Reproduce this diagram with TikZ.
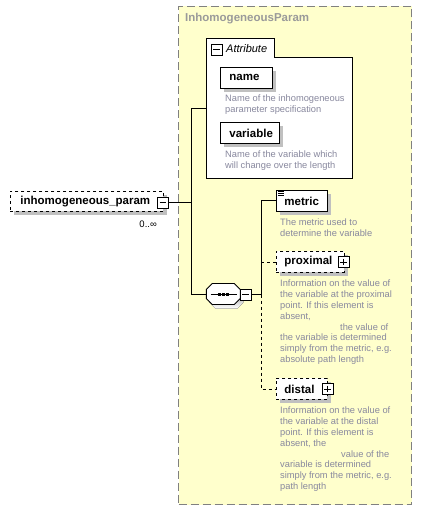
\documentclass[tikz,border=0pt]{standalone}
\usepackage{fontspec}
\setmainfont{Liberation Sans}
\usetikzlibrary{shadows}
\definecolor{paper}{RGB}{255, 255, 204}
\definecolor{frame}{RGB}{128, 128, 128}
\definecolor{note}{RGB}{136, 136, 158}
\definecolor{shade}{RGB}{192, 192, 192}

\begin{document}
\begin{tikzpicture}[
   x=1pt, y=-1pt,
   group/.style={rectangle, draw=frame, fill=paper, line width=1,
                 dash pattern=on 8pt off 4pt, anchor=north west, inner sep=0},
   grouptitle/.style={text=frame!80, font=\bfseries\fontsize{11.5}{13}\selectfont,
                      anchor=west, inner sep=0},
   elem/.style={rectangle, draw=black, fill=white, line width=0.9, text=black,
                font=\bfseries\fontsize{11.5}{13}\selectfont, inner xsep=8,
                inner ysep=0, minimum height=21, anchor=north west, align=left,
                drop shadow={shadow xshift=4pt, shadow yshift=-4pt, fill=shade, opacity=1}},
   optelem/.style={elem, dashed},
   seqbox/.style={rectangle, minimum width=34, minimum height=21, inner sep=0},
   pmbox/.style={rectangle, draw=black, fill=white, line width=0.9,
                 minimum size=11, inner sep=0},
   descr/.style={text=note, font=\fontsize{9.3}{10.8}\selectfont, align=left,
                 anchor=north west, inner sep=0},
   link/.style={line width=0.9, draw=black}
  ]

  \useasboundingbox (0, 0) rectangle (422, 510);

  % Group box
  \node[group, minimum width=233, minimum height=498] (group) at (178, 6) {};
  \node[grouptitle] (grouptitle) at (185, 19) {InhomogeneousParam};

  % Attributes
  \node[minimum width=146, minimum height=140, anchor=north west, inner sep=0] (attr) at (206, 38) {};
  \draw[fill=white, line width=0.9] (attr.south west) -- (attr.north west) -- ++(68, 0)
    -- ++(0, 19) -| (attr.south east) -- cycle;
  \node[pmbox] (attrpm) at (216.5, 49.5) {};
  \node[font=\itshape\fontsize{11}{13}\selectfont, anchor=west, inner sep=0] (attrtitle) at (226, 48.5) {Attribute};

  \node[elem, text width=34, inner xsep=9] (name) at (220, 67) {name};
  \node[descr] (namedoc) at (225, 95) {Name of the inhomogeneous\\parameter specification};
  \node[elem, text width=41, inner xsep=9] (variable) at (220, 122) {variable};
  \node[descr] (variabledoc) at (225, 151) {Name of the variable which\\will change over the length};

  % Element
  \node[optelem, text width=133, inner xsep=10, minimum height=20] (param) at (10, 191) {inhomogeneous\_param};
  \node[pmbox] (parampm) at (163, 202.5) {};
  \node[font=\fontsize{9.5}{11}\selectfont, anchor=east, inner sep=0] (paramcard) at (157, 224) {0..∞};

  % Sequence
  \node[seqbox] (seq) at (223.5, 294) {};
  \fill[shade] ([shift={(3, 4)}]seq.west) ++(0, -4.5) -- ++(6, -6) -- ++(22, 0) -- ++(6, 6)
    -- ++(0, 9) -- ++(-6, 6) -- ++(-22, 0) -- ++(-6, -6) -- cycle;
  \draw[fill=white, line width=0.9] (seq.west) ++(0, -4.5) -- ++(6, -6) -- ++(22, 0) -- ++(6, 6)
    -- ++(0, 9) -- ++(-6, 6) -- ++(-22, 0) -- ++(-6, -6) -- cycle;
  \draw[line width=0.9] ([xshift=-13]seq.center) -- ([xshift=13]seq.center);
  \foreach \dx in {-4, 0, 4} {
    \fill ([xshift=\dx-1.5, yshift=1.5]seq.center) rectangle ++(3, 3);
  }
  \node[pmbox] (seqpm) at (245.5, 294.5) {};

  % Children
  \node[elem, text width=35] (metric) at (276, 190) {metric};
  \foreach \dy in {1.5, 3.5, 5.5} {
    \draw[line width=0.6] ([shift={(2, \dy)}]metric.north west) -- ++(6, 0);
  }
  \node[descr] (metricdoc) at (280, 219) {The metric used to\\determine the variable};

  \node[optelem, text width=52] (proximal) at (276, 251) {proximal};
  \node[pmbox] (proximalpm) at (343.5, 262) {};
  \node[descr] (proximaldoc) at (280, 280) {Information on the value of\\the variable at the proximal\\point. If this element is\\absent,\\\hspace*{60pt}the value of\\the variable is determined\\simply from the metric, e.g.\\absolute path length};

  \node[optelem, text width=35] (distal) at (276, 378) {distal};
  \node[pmbox] (distalpm) at (327.5, 389) {};
  \node[descr] (distaldoc) at (280, 407) {Information on the value of\\the variable at the distal\\point. If this element is\\absent, the\\\hspace*{61pt}value of the\\variable is determined\\simply from the metric, e.g.\\path length};

  % Plus and minus signs
  \foreach \n in {attrpm, parampm, seqpm, proximalpm, distalpm} {
    \draw[line width=0.9] ([xshift=2.5]\n.west) -- ([xshift=-2.5]\n.east);
  }
  \foreach \n in {proximalpm, distalpm} {
    \draw[line width=0.9] ([yshift=-2.5]\n.north) -- ([yshift=2.5]\n.south);
  }

  % Connectors
  \coordinate (trunk) at (191, 0);
  \coordinate (spine) at (261, 0);
  \draw[link] (parampm.east) -- (parampm.east -| trunk);
  \draw[link] (attr.west -| trunk) -- (seq.west -| trunk);
  \foreach \n in {attr, seq} {
    \draw[link] (\n.west -| trunk) -- (\n.west);
  }
  \draw[link] (seqpm.east) -- (seqpm.east -| spine) -- (metric.west -| spine) -- (metric.west);
  \draw[link, dashed] (proximal.west -| spine) -- (proximal.west);
  \draw[link, dashed] (seqpm.east -| spine) -- (distal.west -| spine) -- (distal.west);

\end{tikzpicture}
\end{document}
